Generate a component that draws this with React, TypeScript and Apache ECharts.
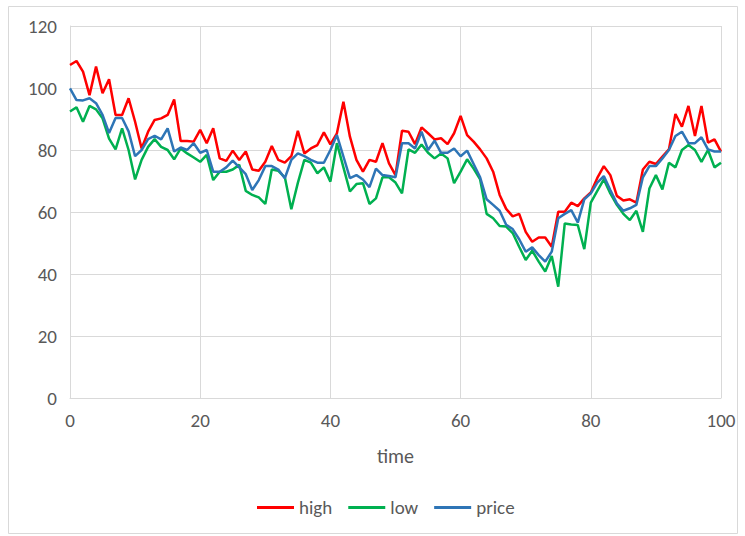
import React, { useEffect, useRef } from "react";
import * as echarts from "echarts";

const times: number[] = Array.from({ length: 101 }, (_, i) => i);

const high: number[] = [
  107.4, 108.7, 105.3, 97.7, 106.9, 98.3, 102.8, 91.3, 91.3, 96.7,
  89.1, 80.5, 85.9, 89.7, 90.2, 91.3, 96.3, 82.9, 82.9, 82.7,
  86.5, 82.2, 87.0, 77.3, 76.5, 79.8, 76.8, 79.5, 73.7, 73.3,
  76.2, 81.3, 76.8, 75.9, 78.0, 86.2, 78.9, 80.5, 81.6, 85.7,
  81.8, 85.4, 95.6, 84.3, 76.8, 73.0, 76.8, 76.2, 82.2, 75.7,
  71.9, 86.2, 85.9, 81.9, 87.3, 85.4, 83.4, 83.8, 81.9, 85.4,
  91.0, 84.8, 82.7, 80.2, 77.3, 73.0, 65.5, 61.0, 58.6, 59.4,
  53.6, 50.4, 51.8, 51.8, 48.8, 60.1, 60.1, 63.0, 61.9, 64.4,
  66.3, 71.0, 74.8, 71.9, 65.2, 63.7, 64.1, 63.0, 73.7, 76.2,
  75.5, 77.9, 80.2, 91.6, 87.5, 94.2, 84.5, 94.2, 82.4, 83.4,
  79.5,
];

const low: number[] = [
  92.4, 93.8, 89.1, 94.2, 93.1, 90.2, 83.7, 80.2, 87.0, 80.0,
  70.5, 76.8, 81.0, 83.5, 81.0, 80.0, 77.0, 80.5, 78.9, 77.6,
  76.2, 78.4, 70.3, 73.0, 73.0, 73.7, 75.2, 66.8, 65.5, 64.7,
  62.6, 73.7, 73.3, 71.2, 60.9, 69.4, 76.8, 75.9, 72.5, 74.4,
  69.8, 82.2, 74.4, 66.6, 69.0, 69.3, 62.6, 64.4, 71.2, 71.2,
  69.5, 66.0, 80.2, 79.1, 81.8, 79.1, 77.3, 78.9, 77.3, 69.3,
  73.0, 77.0, 74.0, 70.5, 59.4, 58.0, 55.5, 55.3, 53.2, 48.8,
  44.5, 47.5, 44.0, 40.8, 45.8, 35.9, 56.3, 56.0, 55.8, 48.0,
  63.0, 66.8, 70.5, 66.0, 62.3, 59.4, 57.4, 60.4, 53.6, 67.6,
  71.9, 67.3, 75.9, 74.4, 80.0, 81.6, 80.0, 76.2, 80.0, 74.4,
  75.9,
];

const price: number[] = [
  99.9, 96.1, 96.0, 96.7, 95.1, 91.3, 85.5, 90.3, 90.3, 86.0,
  78.0, 80.0, 83.5, 84.6, 83.4, 87.0, 79.5, 80.8, 80.0, 82.2,
  79.1, 80.0, 73.0, 73.0, 74.4, 76.6, 74.4, 72.2, 67.1, 70.3,
  74.8, 74.8, 73.7, 70.9, 76.8, 78.9, 78.0, 76.8, 75.9, 75.9,
  80.0, 84.8, 77.9, 70.9, 71.9, 70.5, 68.0, 74.0, 71.9, 71.6,
  71.2, 82.2, 82.2, 80.5, 85.9, 80.0, 83.0, 79.1, 79.1, 80.5,
  78.0, 79.8, 75.5, 71.2, 64.1, 62.3, 60.4, 55.9, 54.5, 51.2,
  47.2, 48.6, 46.1, 44.0, 47.2, 58.0, 59.4, 60.6, 56.6, 64.1,
  66.0, 69.5, 71.6, 67.1, 62.8, 60.4, 61.2, 62.3, 71.2, 74.8,
  74.8, 77.3, 80.0, 84.5, 85.9, 82.2, 82.2, 84.1, 80.2, 79.5,
  79.5,
];

const seriesNames = ["high", "low", "price"];
const seriesColors = ["#FF0000", "#00B050", "#2E75B6"];

const FONT = "Carlito, Calibri, Lato, 'Noto Sans', sans-serif";
const TEXT = "#595959";
const GRID = "#D9D9D9";

export default function App() {
  const ref = useRef<HTMLDivElement>(null);

  useEffect(() => {
    if (!ref.current) return;
    const chart = echarts.init(ref.current, undefined, { renderer: "svg" });
    const datasets = [high, low, price];
    chart.setOption({
      animation: false,
      backgroundColor: "#FFFFFF",
      textStyle: { fontFamily: FONT },
      graphic: [
        {
          type: "rect",
          shape: { x: 8.5, y: 6.5, width: 729, height: 527 },
          style: { fill: "none", stroke: GRID, lineWidth: 1 },
          silent: true,
        },
      ],
      grid: { left: 70, right: 24, top: 26, bottom: 138, containLabel: false },
      legend: {
        data: seriesNames,
        bottom: 14,
        left: 252,
        icon: "rect",
        itemWidth: 37,
        itemHeight: 3,
        itemGap: 16,
        textStyle: { color: TEXT, fontSize: 19, fontFamily: FONT },
      },
      xAxis: {
        type: "value",
        min: 0,
        max: 100,
        interval: 20,
        name: "time",
        nameLocation: "middle",
        nameGap: 48,
        nameTextStyle: { color: TEXT, fontSize: 20, fontFamily: FONT },
        axisLine: { show: true, lineStyle: { color: GRID, width: 1 } },
        axisTick: { show: false },
        axisLabel: { color: TEXT, fontSize: 19, margin: 13, fontFamily: FONT },
        splitLine: { show: true, lineStyle: { color: GRID, width: 1 } },
      },
      yAxis: {
        type: "value",
        min: 0,
        max: 120,
        interval: 20,
        axisLine: { show: true, lineStyle: { color: GRID, width: 1 } },
        axisTick: { show: false },
        axisLabel: { color: TEXT, fontSize: 19, margin: 13, fontFamily: FONT },
        splitLine: { show: true, lineStyle: { color: GRID, width: 1 } },
      },
      series: seriesNames.map((name, k) => ({
        name,
        type: "line",
        data: times.map((t, i) => [t, datasets[k][i]]),
        symbol: "none",
        showSymbol: false,
        lineStyle: { color: seriesColors[k], width: 2.5 },
        itemStyle: { color: seriesColors[k] },
      })),
    });
    return () => chart.dispose();
  }, []);

  return (
    <div
      ref={ref}
      style={{ position: "absolute", left: 0, top: 0, width: 745, height: 536 }}
    />
  );
}
